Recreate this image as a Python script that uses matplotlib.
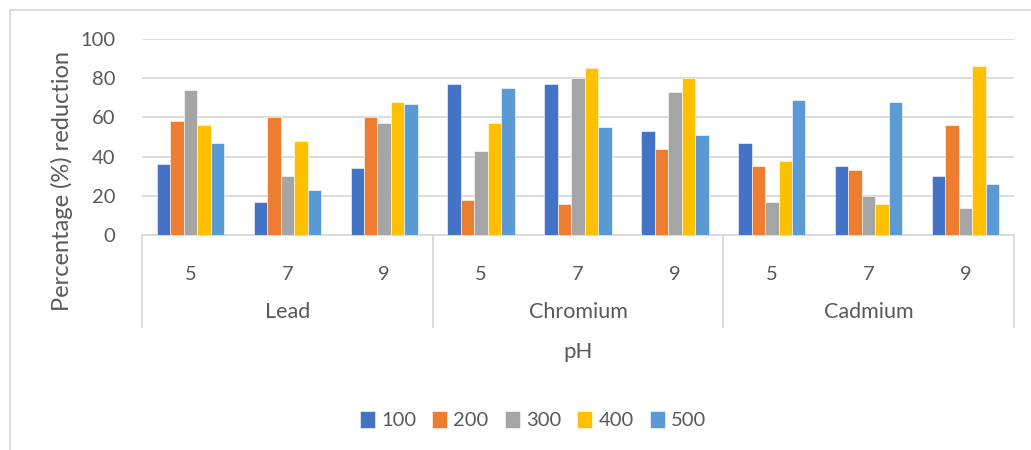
import matplotlib.pyplot as plt
import numpy as np
from matplotlib.patches import Rectangle

plt.rcParams['font.family'] = ['Lato', 'DejaVu Sans']

metals = ['Lead', 'Chromium', 'Cadmium']
ph_values = ['5', '7', '9']
doses = ['100', '200', '300', '400', '500']

# one list per dose, in order Lead 5/7/9, Chromium 5/7/9, Cadmium 5/7/9
dose_100 = [36, 17, 34, 77, 77, 53, 47, 35, 30]
dose_200 = [58, 60, 60, 18, 16, 44, 35, 33, 56]
dose_300 = [74, 30, 57, 43, 80, 73, 17, 20, 14]
dose_400 = [56, 48, 68, 57, 85, 80, 38, 16, 86]
dose_500 = [47, 23, 67, 75, 55, 51, 69, 68, 26]

series = [dose_100, dose_200, dose_300, dose_400, dose_500]
colors = ['#4472C4', '#ED7D31', '#A5A5A5', '#FFC000', '#5B9BD5']
text_c = '#595959'
grid_c = '#D9D9D9'

fig = plt.figure(figsize=(10.31, 4.5), dpi=100)
ax = fig.add_axes([142/1031, 1-235/450, (1014-142)/1031, 196/450])

x = np.arange(len(metals) * len(ph_values))
w = 0.139
for i, (vals, c) in enumerate(zip(series, colors)):
    ax.bar(x + (i - 2) * w, vals, width=w, color=c, label=doses[i],
           edgecolor='white', linewidth=0.4, zorder=3)

ax.set_xlim(-0.5, len(x) - 0.5)
ax.set_ylim(0, 100)
ax.set_yticks(range(0, 101, 20))
ax.yaxis.grid(True, color=grid_c, linewidth=1.3, zorder=0)
for s in ['top', 'right', 'left']:
    ax.spines[s].set_visible(False)
ax.spines['bottom'].set_color(grid_c)
ax.spines['bottom'].set_linewidth(1.3)
ax.tick_params(axis='y', length=0, pad=19, labelsize=14.5, labelcolor=text_c)

# first level: pH labels
ax.set_xticks(x)
ax.set_xticklabels(ph_values * len(metals))
ax.tick_params(axis='x', length=0, pad=22, labelsize=14.5, labelcolor=text_c)

# second level: metal labels and dividers
trans = ax.get_xaxis_transform()
ybot = -(327 - 235) / 196
n = len(ph_values)
for k in range(len(metals) + 1):
    xb = k * n - 0.5
    ax.plot([xb, xb], [0, ybot], color=grid_c, linewidth=1.3,
            transform=trans, clip_on=False)
for k, m in enumerate(metals):
    ax.text(k * n + (n - 1) / 2, -(312 - 235) / 196, m, transform=trans,
            ha='center', va='center', fontsize=15.5, color=text_c)

fig.text(578/1031, 1-352/450, 'pH', ha='center', va='center',
         fontsize=16, color=text_c)
fig.text(62/1031, 1-181/450, 'Percentage (%) reduction', rotation=90,
         ha='center', va='center', fontsize=17, color=text_c)

leg = fig.legend(loc='center', bbox_to_anchor=(533/1031, 1-420/450), ncol=5,
                 frameon=False, fontsize=14.5, handlelength=0.75,
                 handleheight=0.95, handletextpad=0.3, columnspacing=0.8)
for t in leg.get_texts():
    t.set_color(text_c)

# chart area border
fig.patches.append(Rectangle((10/1031, -0.1), 1.2, 1 - 10/450 + 0.1,
                             transform=fig.transFigure, fill=False,
                             edgecolor=grid_c, linewidth=1.3))

fig.savefig('out.png', dpi=100)
